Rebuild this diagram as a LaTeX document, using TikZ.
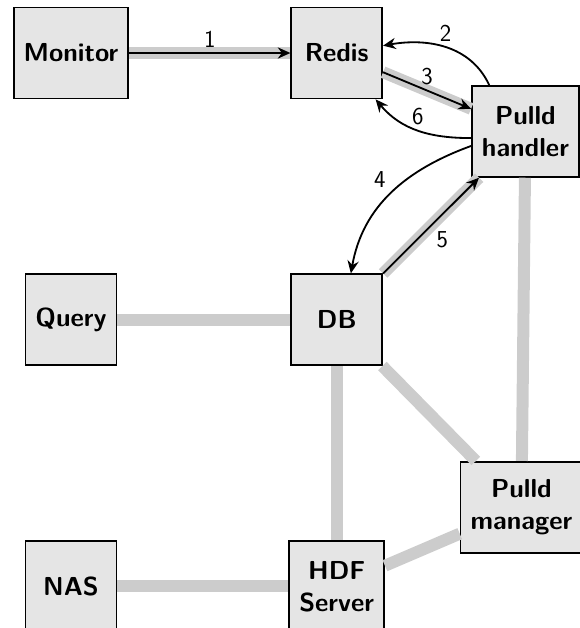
\documentclass[tikz,border=0pt]{standalone}
\usetikzlibrary{arrows.meta, positioning, calc}

\begin{document}
\begin{tikzpicture}[node distance=4.35cm, every node/.style={font=\sffamily\LARGE},
        box/.style={draw, line width=1.2pt, fill=gray!20, minimum width=2.275cm, minimum height=2.275cm, inner sep=0.25cm, align=center, font=\sffamily\bfseries\fontsize{18.5}{22.7}\selectfont},
        link/.style={draw=gray!40, line width=0.3cm},
        flow/.style={draw=black, line width=1.3pt, -{Stealth[length=9pt, width=8pt, inset=3pt]}}]
            \useasboundingbox (-1.775,1.325) rectangle ++(14.5,-15.7);

            \node[box] (monitor) at (0,0) {Monitor};
            \node[box, right=4.03cm of monitor] (redis) {Redis};
            \node[box, right=2.2cm of redis, yshift=-1.96cm] (handler) {Pulld\\handler};
            \node[box, below=of monitor] (query) {Query};
            \node[box, below=of redis] (db) {DB};
            \node[box, below=of query] (nas) {NAS};
            \node[box, below=of db] (hdf) {HDF\\Server};
            \node[box, below=7.08cm of handler, xshift=-0.1cm] (manager) {Pulld\\manager};

            % grey links
            \draw[link] (monitor) -- (redis);
            \draw[link] (redis) -- (handler);
            \draw[link] (db) -- (handler);
            \draw[link] (query) -- (db);
            \draw[link] (db) -- (hdf);
            \draw[link] (db) -- (manager);
            \draw[link] (handler) -- (manager);
            \draw[link] (hdf) -- (manager);
            \draw[link] (nas) -- (hdf);

            % numbered steps
            \draw[flow] (monitor) -- node[above] {1} (redis);
            \draw[flow] (handler.128) to[out=115, in=10] node[above] {2} (redis.9);
            \draw[flow] (redis) -- node[above] {3} (handler);
            \draw[flow] (handler.195) to[out=200, in=80] node[above left] {4} (db.73);
            \draw[flow] (db) -- node[below right] {5} (handler);
            \draw[flow] (handler.187) to[out=180, in=-50] node[above] {6} (redis.-50);
        \end{tikzpicture}
\end{document}
